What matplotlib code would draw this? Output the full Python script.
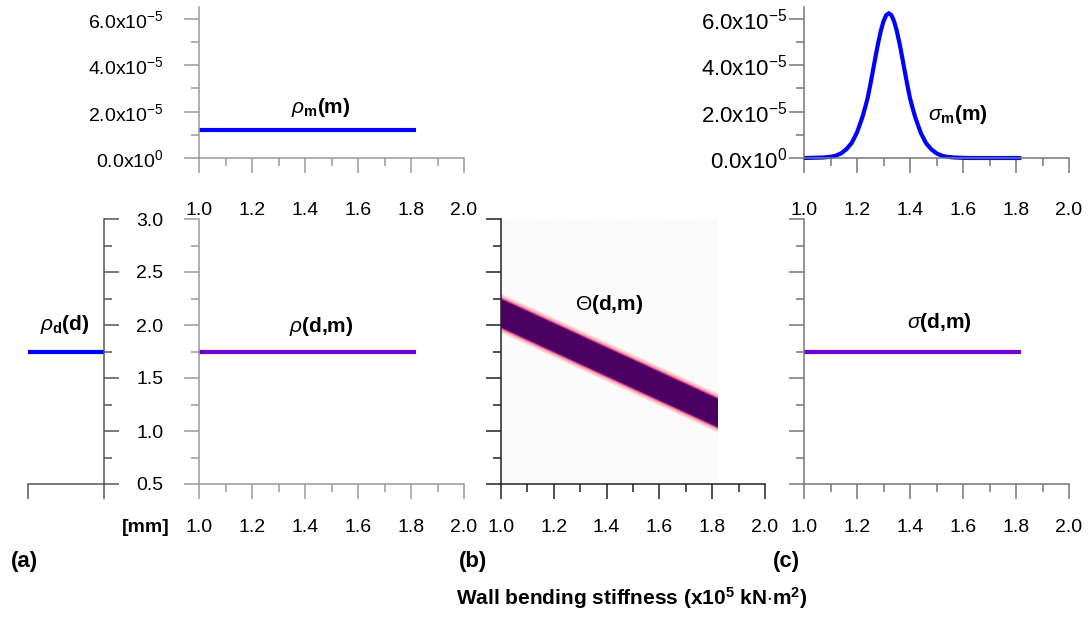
import numpy as np
import matplotlib
matplotlib.use("Agg")
import matplotlib.pyplot as plt
from matplotlib.colors import LinearSegmentedColormap
from matplotlib.ticker import MultipleLocator, FixedLocator, FixedFormatter

# ---------------------------------------------------------------------------
# DATA
# ---------------------------------------------------------------------------
# model parameter m (wall bending stiffness, x10^5 kN.m2), data d (mm)
m_range = [1.0, 1.82]

# prior on m : uniform
rho_m_level = [1.21e-5, 1.21e-5]

# prior on d : uniform (left strip)
rho_d_x = [0.0, 1.0]
rho_d_level = [1.75, 1.75]

# joint prior rho(d,m) and posterior sigma(d,m) (flat at d = 1.75)
rho_dm_level = [1.75, 1.75]
sigma_dm_level = [1.75, 1.75]

# theoretical relation Theta(d,m): band centre at both ends of m, half widths
band_m = [1.0, 1.82]
band_centre = [2.11, 1.17]
band_core = 0.13
band_halo = 0.19

# posterior marginal sigma_m(m), values in 1e-5
sigma_m_x = [1.00, 1.07, 1.10, 1.12, 1.14, 1.16, 1.18, 1.20, 1.22, 1.23, 1.24,
             1.25, 1.26, 1.27, 1.28, 1.29, 1.30, 1.31, 1.32, 1.33, 1.34, 1.35,
             1.36, 1.37, 1.38, 1.39, 1.40, 1.41, 1.42, 1.44, 1.46, 1.48, 1.50,
             1.52, 1.54, 1.57, 1.62, 1.70, 1.82]
sigma_m_y = [0.00, 0.02, 0.05, 0.10, 0.20, 0.38, 0.65, 1.10, 1.75, 2.15, 2.58,
             3.15, 3.76, 4.38, 4.97, 5.49, 5.90, 6.16, 6.25, 6.16, 5.90, 5.49,
             4.97, 4.38, 3.76, 3.15, 2.58, 2.15, 1.75, 1.10, 0.65, 0.38, 0.20,
             0.10, 0.05, 0.02, 0.00, 0.00, 0.00]
sigma_m_y = [v * 1e-5 for v in sigma_m_y]

x_ticks = [1.0, 1.2, 1.4, 1.6, 1.8, 2.0]
x_ticklabels = ["1.0", "1.2", "1.4", "1.6", "1.8", "2.0"]
pdf_ticks = [0.0, 2e-5, 4e-5, 6e-5]
pdf_ticklabels = ["0.0x10$^{0}$", "2.0x10$^{-5}$", "4.0x10$^{-5}$", "6.0x10$^{-5}$"]
d_ticks = [0.5, 1.0, 1.5, 2.0, 2.5, 3.0]
d_ticklabels = ["0.5", "1.0", "1.5", "2.0", "2.5", "3.0"]

# ---------------------------------------------------------------------------
# STYLE
# ---------------------------------------------------------------------------
plt.rcParams["font.family"] = "Liberation Sans"
plt.rcParams["mathtext.fontset"] = "custom"
plt.rcParams["mathtext.rm"] = "Liberation Sans"
plt.rcParams["mathtext.it"] = "Liberation Sans:italic"
plt.rcParams["mathtext.bf"] = "Liberation Sans:bold"

BLUE = "#0000ff"
PURPLE = "#6a00d4"
LW = 3.0
TICK_FS = 14
LABEL_FS = 15

W, H = 1091, 621
fig = plt.figure(figsize=(W / 100, H / 100), dpi=100)


def px_axes(x0, x1, y_top, y_bottom):
    return fig.add_axes([x0 / W, 1 - y_bottom / H, (x1 - x0) / W, (y_bottom - y_top) / H])


def style(ax, color, xpad, ypad):
    for s in ["top", "right"]:
        ax.spines[s].set_visible(False)
    for s in ["left", "bottom"]:
        ax.spines[s].set_color(color)
        ax.spines[s].set_linewidth(1.1)
    ax.tick_params(which="major", direction="out", length=10.5, width=1.1,
                   color=color, labelsize=TICK_FS, labelcolor="black")
    ax.tick_params(which="minor", direction="out", length=5.5, width=1.1, color=color)
    ax.tick_params(axis="x", pad=xpad)
    ax.tick_params(axis="y", pad=ypad)
    ax.set_xlim(1.0, 2.0)
    ax.xaxis.set_major_locator(FixedLocator(x_ticks))
    ax.xaxis.set_major_formatter(FixedFormatter(x_ticklabels))
    ax.xaxis.set_minor_locator(MultipleLocator(0.1))
    ax.set_facecolor("none")


def pdf_axis(ax):
    ax.set_ylim(0, 6.5e-5)
    ax.yaxis.set_major_locator(FixedLocator(pdf_ticks))
    ax.yaxis.set_major_formatter(FixedFormatter(pdf_ticklabels))
    ax.yaxis.set_minor_locator(MultipleLocator(1e-5))


def d_axis(ax, labels=True):
    ax.set_ylim(0.5, 3.0)
    ax.yaxis.set_major_locator(FixedLocator(d_ticks))
    if labels:
        ax.yaxis.set_major_formatter(FixedFormatter(d_ticklabels))
    else:
        ax.set_yticklabels([])
    ax.yaxis.set_minor_locator(MultipleLocator(0.25))


# ---------------------------------------------------------------------------
# (a) prior : rho_m(m), rho_d(d), rho(d,m)
# ---------------------------------------------------------------------------
ax_tl = px_axes(199, 464, 7.4, 158)
style(ax_tl, "#9a9a9a", 15, 15)
pdf_axis(ax_tl)
ax_tl.plot(m_range, rho_m_level, color=BLUE, lw=LW, clip_on=False,
           solid_capstyle="butt")
ax_tl.text(1.46, 2.16e-5, r"$\rho_{\mathbf{m}}$(m)", ha="center", va="center",
           fontsize=LABEL_FS, fontweight="bold")

ax_bl = px_axes(199, 464, 219, 484)
style(ax_bl, "#9a9a9a", 15, 15)
d_axis(ax_bl)
ax_bl.plot(m_range, rho_dm_level, color=PURPLE, lw=LW, clip_on=False,
           solid_capstyle="butt")
ax_bl.text(1.46, 1.99, r"$\rho$(d,m)", ha="center", va="center",
           fontsize=LABEL_FS, fontweight="bold")

# left strip with rho_d(d), axis on the right side
ax_l = px_axes(28, 104, 219, 484)
for s in ["top", "left"]:
    ax_l.spines[s].set_visible(False)
for s in ["right", "bottom"]:
    ax_l.spines[s].set_color("#555555")
    ax_l.spines[s].set_linewidth(1.1)
ax_l.yaxis.tick_right()
ax_l.set_xlim(0, 1)
ax_l.set_ylim(0.5, 3.0)
ax_l.set_xticks([0, 1])
ax_l.set_xticklabels([])
ax_l.yaxis.set_major_locator(FixedLocator(d_ticks))
ax_l.set_yticklabels([])
ax_l.yaxis.set_minor_locator(MultipleLocator(0.25))
ax_l.tick_params(which="major", direction="out", length=10.5, width=1.1, color="#555555")
ax_l.tick_params(which="minor", direction="out", length=5.5, width=1.1, color="#555555")
ax_l.set_facecolor("none")
ax_l.plot(rho_d_x, rho_d_level, color=BLUE, lw=LW, clip_on=False,
          solid_capstyle="butt")
ax_l.text(0.49, 2.0, r"$\rho_{\mathbf{d}}$(d)", ha="center", va="center",
          fontsize=LABEL_FS, fontweight="bold")

# ---------------------------------------------------------------------------
# (b) theoretical relation Theta(d,m)
# ---------------------------------------------------------------------------
ax_m = px_axes(501, 765, 219, 484)
style(ax_m, "#222222", 15, 15)
d_axis(ax_m, labels=False)

mm = np.linspace(band_m[0], band_m[1], 300)
dd = np.linspace(0.5, 3.0, 600)
M, D = np.meshgrid(mm, dd)
centre = np.interp(M, band_m, band_centre)
theta = np.clip((band_halo - np.abs(D - centre)) / (band_halo - band_core), 0, 1)

theta_cmap = LinearSegmentedColormap.from_list(
    "theta", [(0.0, "#fbfbfb"), (0.15, "#fce0dd"), (0.5, "#f8b8bd"),
              (0.8, "#e45a96"), (0.92, "#a0107a"), (1.0, "#4b0062")])
ax_m.imshow(theta, extent=[band_m[0], band_m[1], 0.5, 3.0], origin="lower",
            aspect="auto", cmap=theta_cmap, vmin=0, vmax=1,
            interpolation="bilinear", zorder=0)
ax_m.set_xlim(1.0, 2.0)
ax_m.set_ylim(0.5, 3.0)
ax_m.text(1.41, 2.19, r"$\Theta$(d,m)", ha="center", va="center",
          fontsize=LABEL_FS, fontweight="bold")

# ---------------------------------------------------------------------------
# (c) posterior : sigma_m(m), sigma(d,m)
# ---------------------------------------------------------------------------
ax_tr = px_axes(804, 1069, 7.4, 158)
style(ax_tr, "#777777", 15, 1.5)
pdf_axis(ax_tr)
ax_tr.tick_params(axis="y", labelsize=16)
ax_tr.plot(sigma_m_x, sigma_m_y, color=BLUE, lw=LW, clip_on=False,
           solid_joinstyle="round", solid_capstyle="butt")
ax_tr.text(1.58, 1.86e-5, r"$\sigma_{\mathbf{m}}$(m)", ha="center", va="center",
           fontsize=LABEL_FS, fontweight="bold")

ax_br = px_axes(804, 1069, 219, 484)
style(ax_br, "#777777", 15, 15)
d_axis(ax_br, labels=False)
ax_br.plot(m_range, sigma_dm_level, color=PURPLE, lw=LW, clip_on=False,
           solid_capstyle="butt")
ax_br.text(1.51, 2.02, r"$\sigma$(d,m)", ha="center", va="center",
           fontsize=LABEL_FS, fontweight="bold")

# top row x labels sit further down
for ax in [ax_tl, ax_tr]:
    ax.tick_params(axis="x", pad=21)

# ---------------------------------------------------------------------------
# LABELS
# ---------------------------------------------------------------------------
fig.text(146 / W, 1 - 527 / H, "[mm]", ha="center", va="center",
         fontsize=14, fontweight="bold")
for x, lab in [(24, "(a)"), (473, "(b)"), (786, "(c)")]:
    fig.text(x / W, 1 - 561 / H, lab, ha="center", va="center",
             fontsize=16, fontweight="bold")
fig.text(632 / W, 1 - 598 / H,
         r"Wall bending stiffness (x10$^{\mathbf{5}}$ kN$\cdot$m$^{\mathbf{2}}$)",
         ha="center", va="center", fontsize=15, fontweight="bold")

fig.savefig("out.png", dpi=100, facecolor="white")
